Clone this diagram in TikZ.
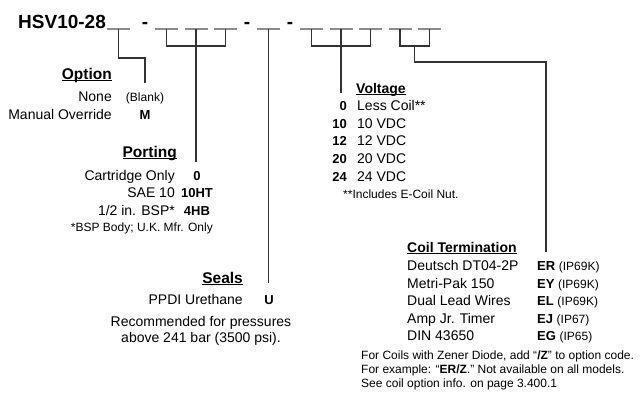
\documentclass[tikz,border=0pt]{standalone}
\usepackage{fontspec}
\setmainfont{Liberation Sans}
\usetikzlibrary{calc}
\newcommand\ulhead[1]{\setbox0\hbox{#1}\rlap{\rule[-2.4pt]{\wd0}{1pt}}\box0}
\newcommand\ipnote[1]{{\mdseries\fontsize{12}{14}\selectfont #1}}

\begin{document}
\begin{tikzpicture}[x=1pt, y=-1pt,
  title/.style={inner sep=0pt, font=\fontsize{19}{21}\selectfont\bfseries},
  lbl/.style={inner sep=0pt, font=\fontsize{14}{16}\selectfont},
  head/.style={inner sep=0pt, font=\fontsize{15.5}{17}\selectfont\bfseries},
  headsm/.style={inner sep=0pt, font=\fontsize{14}{16}\selectfont\bfseries},
  code/.style={inner sep=0pt, font=\fontsize{13}{15}\selectfont\bfseries},
  note/.style={inner sep=0pt, font=\fontsize{12}{14}\selectfont},
  blankline/.style={line width=1.4pt, black!45},
  lead/.style={line width=1.2pt, black!80}]
\useasboundingbox (0,0) rectangle (641,392);

% part number
\node[title, anchor=base west] (model) at (18,28) {HSV10-28};
\foreach \x [count=\i] in {145,247,290}
  \node[title, anchor=base] (dash\i) at (\x,28) {-};
\foreach \n/\x in {1/118.5,2/166.5,3/196,4/225.5,5/268.5,6/311.5,7/341,8/370.5,9/400,10/429.5}{
  \draw[blankline] (\x-11.5,29) -- (\x+11.5,29);
  \coordinate (b\n) at (\x,29);
}

% option
\node[head, anchor=base east] (opthead) at (112,79) {\ulhead{Option}};
\node[lbl, anchor=base east] (optnone) at (112,101) {None};
\node[note, anchor=base] (optblank) at (145,101) {(Blank)};
\node[lbl, anchor=base east] (optmo) at (112,119) {Manual Override};
\node[code, anchor=base] (optm) at (145,119) {M};

% porting
\node[head, anchor=base east] (porthead) at (177,157) {\ulhead{Porting}};
\node[lbl, anchor=base east] (portcart) at (175,180) {Cartridge Only};
\node[code, anchor=base] (port0) at (197,180) {0};
\node[lbl, anchor=base east] (portsae) at (175,197) {SAE 10};
\node[code, anchor=base] (port10ht) at (197,197) {10HT};
\node[lbl, anchor=base east] (portbsp) at (175,215) {1/2 in. BSP*};
\node[code, anchor=base] (port4hb) at (197,215) {4HB};
\node[note, anchor=base east] (portfoot) at (213,231) {*BSP Body; U.K. Mfr. Only};

% seals
\node[head, anchor=base east] (sealhead) at (243,283) {\ulhead{Seals}};
\node[lbl, anchor=base east] (sealppdi) at (243,304) {PPDI Urethane};
\node[code, anchor=base] (sealu) at (269,304) {U};
\node[lbl, anchor=base] (sealrec1) at (201,326) {Recommended for pressures};
\node[lbl, anchor=base] (sealrec2) at (201,342) {above 241 bar (3500 psi).};

% voltage
\node[headsm, anchor=base west] (volthead) at (356,93) {\ulhead{Voltage}};
\foreach \c/\t/\y in {0/Less Coil**/110,10/10 VDC/128,12/12 VDC/145,20/20 VDC/163,24/24 VDC/181}{
  \node[code, anchor=base east] (vc\c) at (347,\y) {\c};
  \node[lbl, anchor=base west] (vt\c) at (357,\y) {\t};
}
\node[note, anchor=base west] (voltfoot) at (343,198) {**Includes E-Coil Nut.};

% coil termination
\node[headsm, anchor=base west] (coilhead) at (407,252) {\ulhead{Coil Termination}};
\foreach \c/\t/\p/\y in {ER/Deutsch DT04-2P/IP69K/270,EY/Metri-Pak 150/IP69K/288,EL/Dual Lead Wires/IP69K/305,EJ/Amp Jr. Timer/IP67/323,EG/DIN 43650/IP65/340}{
  \node[lbl, anchor=base west] (ct\c) at (407,\y) {\t};
  \node[code, anchor=base west] (cc\c) at (537,\y) {\c\ \ipnote{(\p)}};
}
\node[note, anchor=base west] (coilnote1) at (361,359) {For Coils with Zener Diode, add “\textbf{/Z}” to option code.};
\node[note, anchor=base west] (coilnote2) at (361,373) {For example: “\textbf{ER/Z}.” Not available on all models.};
\node[note, anchor=base west] (coilnote3) at (361,387) {See coil option info. on page 3.400.1};

% leads
\coordinate (optend) at (145,83);
\coordinate (portend) at (196,162);
\coordinate (sealend) at (268.5,283);
\coordinate (voltend) at (341,93);
\coordinate (coilmid) at ($(b9)!0.5!(b10)+(0,17)$);
\coordinate (coilend) at (546,252);
\draw[lead] (b1) -- ++(0,29) -| (optend);
\draw[lead] (b2) -- ++(0,17) -| (b4);
\draw[lead] (b3) -- (portend);
\draw[lead] (b5) -- (sealend);
\draw[lead] (b6) -- ++(0,17) -| (b8);
\draw[lead] (b7) -- (voltend);
\draw[lead] (b9) -- ++(0,17) -| (b10);
\draw[lead] (coilmid) -- ++(0,16) -| (coilend);
\end{tikzpicture}
\end{document}
